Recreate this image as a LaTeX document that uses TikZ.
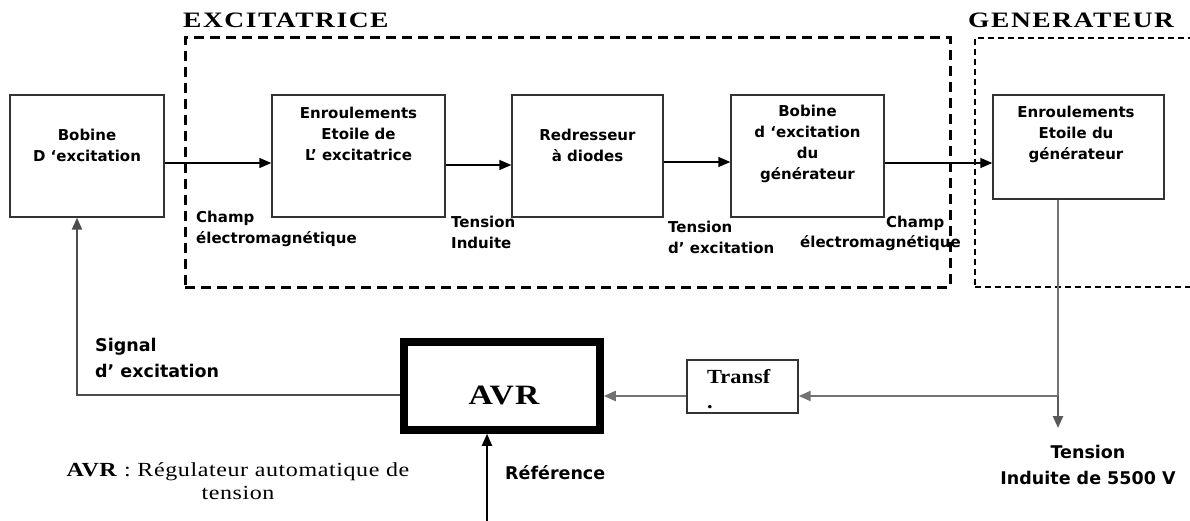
\documentclass[tikz,border=0pt]{standalone}
\usepackage{fontspec}
\setmainfont{Liberation Serif}
\newfontfamily\gothic{DejaVu Sans}
\usetikzlibrary{arrows.meta}

\tikzset{
  blk/.style={draw=black!80, line width=1.4pt, inner sep=0pt},
  txt/.style={font=\gothic\bfseries\fontsize{15}{21}\selectfont, align=center, inner sep=0pt},
  lbl/.style={font=\gothic\bfseries\fontsize{15}{21}\selectfont, align=left, inner sep=0pt, anchor=west},
  biglbl/.style={font=\gothic\bfseries\fontsize{17.5}{26}\selectfont, inner sep=0pt},
  grouptitle/.style={font=\bfseries\fontsize{22}{24}\selectfont\addfontfeature{FakeStretch=1.25,LetterSpace=7}, inner sep=0pt, anchor=west},
  arr/.style={-{Triangle[length=12pt,width=10pt]}, line width=1.4pt},
  feed/.style={arr, draw=black!55, line width=2.4pt},
}

\begin{document}
\begin{tikzpicture}[x=1pt, y=-1pt]
  \useasboundingbox (0,0) rectangle (1190,521);
  \clip (0,0) rectangle (1190,521);

  % groups
  \node[draw, line width=3pt, dash pattern=on 10pt off 6pt, minimum width=765pt, minimum height=249pt] (exc) at (567.5,162.5) {};
  \node[draw, line width=1.3pt, dash pattern=on 6pt off 4pt, minimum width=225pt, minimum height=249pt] (gen) at (1087.5,162.5) {};
  \node[grouptitle] (exct) at (183,20) {EXCITATRICE};
  \node[grouptitle] (gent) at (968,20) {GENERATEUR};

  % blocks of the excitation chain
  \node[blk, minimum width=154pt, minimum height=122pt] (bob) at (87,156) {};
  \node[txt] (bobT) at (87,145) {Bobine\\D ‘excitation};
  \node[blk, minimum width=173pt, minimum height=122pt] (enr) at (358.5,156) {};
  \node[txt] (enrT) at (358.5,134) {Enroulements\\Etoile de\\L’ excitatrice};
  \node[blk, minimum width=151pt, minimum height=122pt] (red) at (587.5,156) {};
  \node[txt] (redT) at (587.5,145) {Redresseur\\à diodes};
  \node[blk, minimum width=153pt, minimum height=122pt] (bgen) at (807.5,156) {};
  \node[txt] (bgenT) at (807.5,144) {Bobine\\d ‘excitation\\du\\générateur};
  \node[blk, minimum width=171pt, minimum height=104pt] (egen) at (1078.5,147) {};
  \node[txt] (egenT) at (1076,134) {Enroulements\\Etoile du\\générateur};

  \draw[arr] (bob.east |- 0,163) -- (enr.west |- 0,163);
  \draw[arr] (enr.east |- 0,165) -- (red.west |- 0,165);
  \draw[arr] (red.east |- 0,162) -- (bgen.west |- 0,162);
  \draw[arr] (bgen.east |- 0,163) -- (egen.west |- 0,163);

  % quantities passed between blocks
  \node[lbl] (l1) at (196,229) {Champ\\électromagnétique};
  \node[lbl] (l2) at (451,232) {Tension\\Induite};
  \node[lbl] (l3) at (668,237) {Tension\\d’ excitation};
  \node[lbl] (l4a) at (886,223) {Champ};
  \node[lbl] (l4b) at (800,243) {électromagnétique};

  % regulation loop
  \node[draw, line width=7.5pt, minimum width=196pt, minimum height=88pt, inner sep=0pt] (avr) at (502,386) {};
  \node[font=\bfseries\fontsize{28}{30}\selectfont\addfontfeature{FakeStretch=1.2,LetterSpace=4}, inner sep=0pt] (avrT) at (504,395) {AVR};
  \node[blk, minimum width=111pt, minimum height=53pt] (tr) at (742.5,386.5) {};
  \node[font=\bfseries\fontsize{20}{25}\selectfont\addfontfeature{FakeStretch=1.12}, align=left, inner sep=0pt, anchor=west] (trT) at (707,389) {Transf\\.};

  \coordinate (tap) at (1058,396);
  \coordinate (out) at (1058,428);
  \coordinate (fb) at (77,395);
  \coordinate (ref) at (487,530);

  \draw[feed, -] (tap |- egen.south) -- (tap);
  \draw[feed, draw=black!65] (tap) -- (out);
  \draw[feed] (tap) -- (tap -| tr.east);
  \draw[feed] (tr.west |- tap) -- (tap -| avr.east);
  \draw[arr, draw=black!70, line width=2pt] (avr.west |- fb) -- (fb) -- (fb |- bob.south);
  \draw[arr, line width=1.8pt] (ref) -- (ref |- avr.south);

  \node[biglbl, align=left, anchor=west] (sig) at (95,358) {Signal\\d’ excitation};
  \node[biglbl, anchor=west] (refT) at (505,473) {Référence};
  \node[biglbl, align=center] (tens) at (1088,465) {Tension\\Induite de 5500 V};
  \node[font=\fontsize{20}{23}\selectfont\addfontfeature{FakeStretch=1.2,LetterSpace=3}, align=center, inner sep=0pt] (cap) at (238,481) {\textbf{AVR} : Régulateur automatique de\\tension};
\end{tikzpicture}
\end{document}
